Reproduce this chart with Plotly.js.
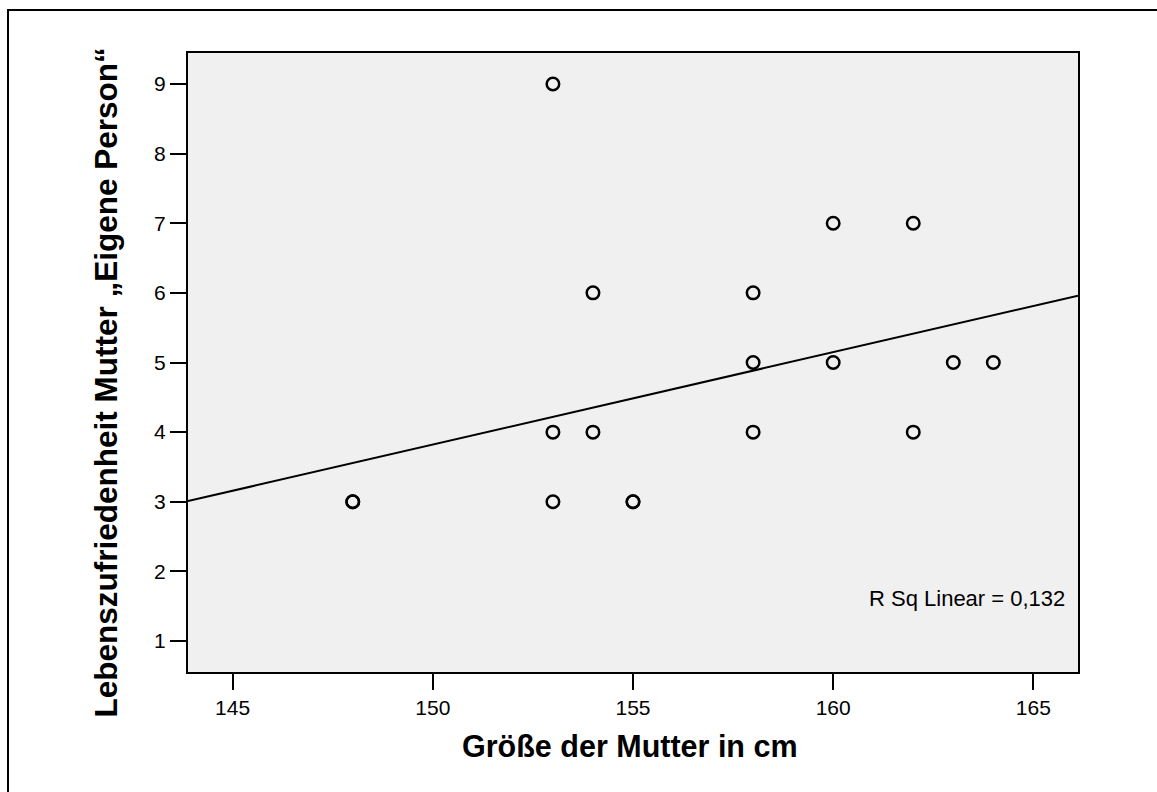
<!DOCTYPE html>
<html>
<head>
<meta charset="utf-8">
<script src="https://cdn.plot.ly/plotly-3.0.1.min.js"></script>
<style>
html, body { margin: 0; padding: 0; background: #fff; }
#wrap { position: relative; width: 1157px; height: 792px; overflow: hidden; }
#chart { position: absolute; left: 0; top: 0; width: 1157px; height: 792px; }
#frame { position: absolute; left: 7px; top: 9px; width: 1170px; height: 810px; border: 2px solid #000; box-sizing: border-box; pointer-events: none; }
</style>
</head>
<body>
<div id="wrap">
  <div id="chart"></div>
  <div id="frame"></div>
</div>
<script>
// Data
const motherHeight = [153, 160, 162, 154, 158, 158, 160, 163, 164, 153, 154, 158, 162, 148, 148, 153, 155, 155];
const lifeSatisfaction = [9, 7, 7, 6, 6, 5, 5, 5, 5, 4, 4, 4, 4, 3, 3, 3, 3, 3];
// Linear fit line (endpoints at the axis limits)
const fitX = [143.885, 166.115];
const fitY = [3.01, 5.96];
const xTicks = [145, 150, 155, 160, 165];
const yTicks = [1, 2, 3, 4, 5, 6, 7, 8, 9];
const xTitle = 'Größe der Mutter in cm';
const yTitle = 'Lebenszufriedenheit Mutter „Eigene Person“';
const rsqText = 'R Sq Linear = 0,132';

const FONT = 'Liberation Sans, Arial, sans-serif';

const traces = [
  {
    x: fitX, y: fitY, type: 'scatter', mode: 'lines',
    line: { color: '#000', width: 2 }, hoverinfo: 'skip', showlegend: false
  },
  {
    x: motherHeight, y: lifeSatisfaction, type: 'scatter', mode: 'markers',
    marker: { symbol: 'circle-open', size: 12.5, color: '#000', line: { color: '#000', width: 2.5 } },
    showlegend: false
  }
];

const axisCommon = {
  showgrid: false, zeroline: false,
  showline: true, mirror: true, linecolor: '#000', linewidth: 2,
  ticks: 'outside', ticklen: 16, tickwidth: 2, tickcolor: '#000',
  tickfont: { family: FONT, size: 21, color: '#000' },
  tickmode: 'array'
};

const layout = {
  width: 1157, height: 792,
  margin: { l: 188, r: 79, t: 53, b: 120 },
  paper_bgcolor: '#fff',
  plot_bgcolor: '#f0f0f0',
  showlegend: false,
  xaxis: Object.assign({}, axisCommon, {
    range: [143.885, 166.115], tickvals: xTicks, ticktext: xTicks.map(String)
  }),
  yaxis: Object.assign({}, axisCommon, {
    range: [0.555, 9.445], tickvals: yTicks, ticktext: yTicks.map(String)
  }),
  annotations: [
    {
      text: rsqText, xref: 'paper', yref: 'paper', x: 0.9876, y: 0.118,
      xanchor: 'right', yanchor: 'middle', showarrow: false,
      font: { family: FONT, size: 22, color: '#000' }
    },
    {
      text: '<b>' + xTitle + '</b>', xref: 'paper', yref: 'paper', x: 0.4966, y: -0.1195,
      xanchor: 'center', yanchor: 'middle', showarrow: false,
      font: { family: FONT, size: 30.5, color: '#000' }
    },
    {
      text: '<b>' + yTitle + '</b>', xref: 'paper', yref: 'paper', x: -0.0921, y: 0.4677,
      xanchor: 'center', yanchor: 'middle', showarrow: false, textangle: -90,
      font: { family: FONT, size: 31.5, color: '#000' }
    }
  ]
};

Plotly.newPlot('chart', traces, layout, { displayModeBar: false, staticPlot: true });
</script>
</body>
</html>
